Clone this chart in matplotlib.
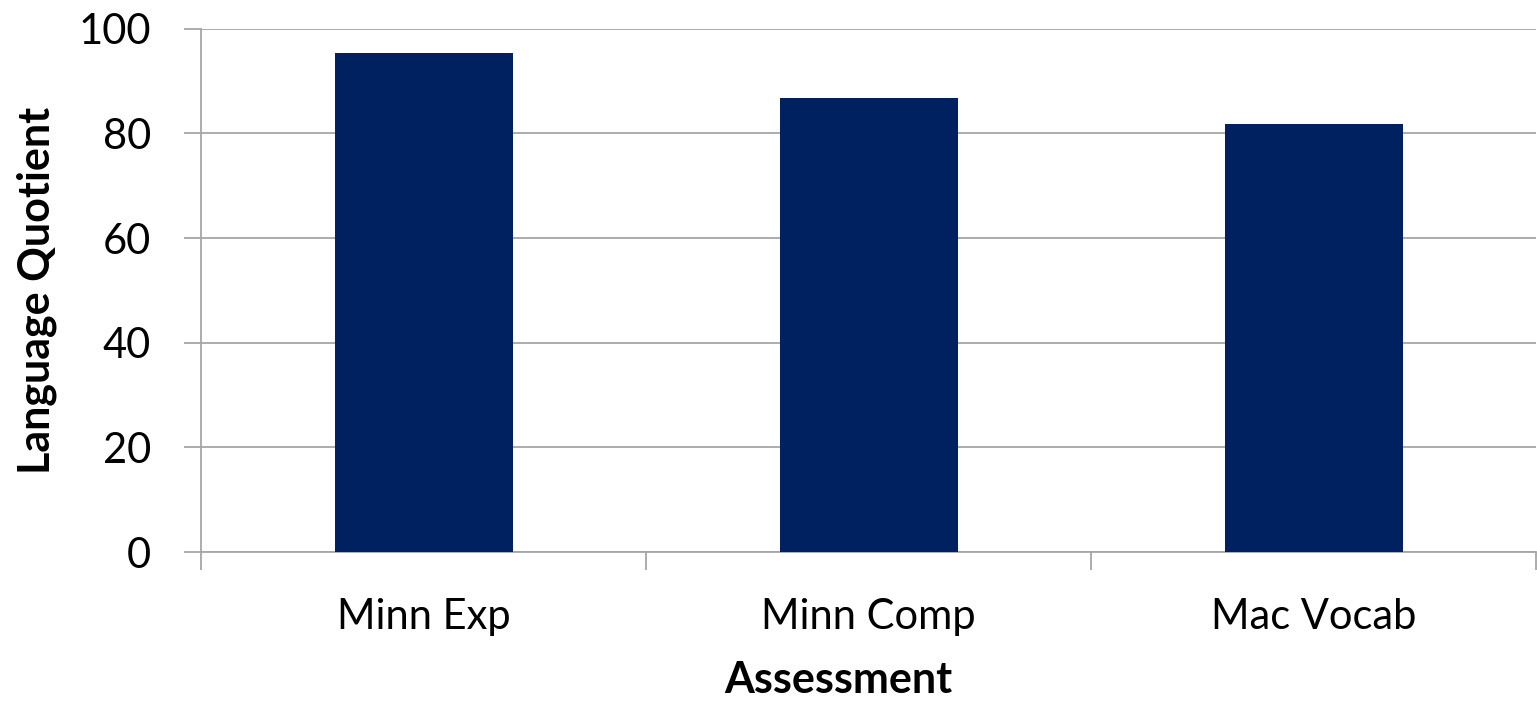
import matplotlib
matplotlib.use("Agg")
import matplotlib.pyplot as plt
import numpy as np

categories = ["Minn Exp", "Minn Comp", "Mac Vocab"]
values = [95.3, 86.8, 81.8]
yticks = [0, 20, 40, 60, 80, 100]

plt.rcParams['font.family'] = ['Lato', 'DejaVu Sans']

W, H = 1537, 703
fig = plt.figure(figsize=(W/100, H/100), dpi=100)
ax = fig.add_axes([201/W, 1-552/H, (1536-201)/W, (552-28.7)/H])

x = np.arange(len(categories))
ax.bar(x, values, width=0.4, color="#00215F", zorder=3)
ax.set_xlim(-0.5, len(categories)-0.5)
ax.set_ylim(0, 100)
ax.set_yticks(yticks)
ax.set_yticklabels([str(v) for v in yticks], fontsize=30)
ax.yaxis.grid(True, color="#A6A6A6", linewidth=1.3, zorder=0)
ax.set_axisbelow(True)

# category boundaries as tick marks
ax.set_xticks(np.arange(len(categories)+1) - 0.5)
ax.set_xticklabels([])
ax.set_xticks(x, minor=True)
ax.set_xticklabels(categories, minor=True, fontsize=30)
ax.tick_params(axis='x', which='major', length=13, width=1.3, color="#A6A6A6")
ax.tick_params(axis='x', which='minor', length=0, pad=33)
ax.tick_params(axis='y', length=12, width=1.3, color="#A6A6A6", pad=24)

for s in ["top", "right"]:
    ax.spines[s].set_visible(False)
for s in ["left", "bottom"]:
    ax.spines[s].set_color("#A6A6A6")
    ax.spines[s].set_linewidth(1.3)

fig.text(37/W, 1-290/H, "Language Quotient", fontsize=31, fontweight="bold",
         rotation=90, ha="center", va="center")
fig.text(838/W, 1-680/H, "Assessment", fontsize=31, fontweight="bold",
         ha="center", va="center")

fig.savefig("out.png", dpi=100)
